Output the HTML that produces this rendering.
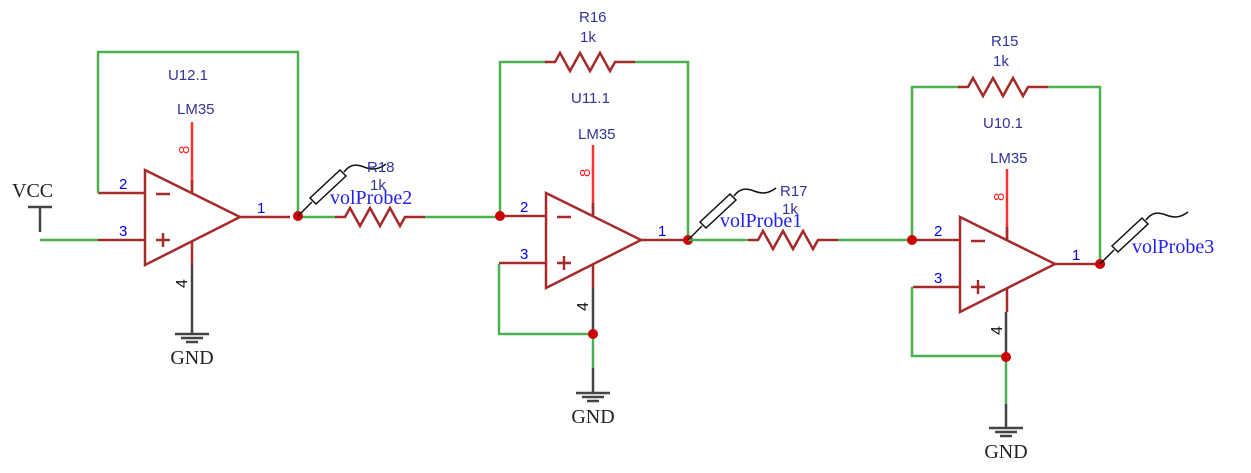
<!DOCTYPE html>
<html><head><meta charset="utf-8"><style>
html,body{margin:0;padding:0;background:#fff;}
svg{display:block}
.g{stroke:#4caf50;stroke-width:2.5;fill:none}
.r{stroke:#a52a2a;stroke-width:2.5;fill:none}
.rr{stroke:#ff3030;stroke-width:2.5;fill:none}
.k{stroke:#444;stroke-width:2.5;fill:none}
.lb{font-family:"Liberation Sans",sans-serif;font-size:15px;fill:#333399}
.pn{font-family:"Liberation Sans",sans-serif;font-size:15px;fill:#0000ee}
.sf{font-family:"Liberation Serif",serif;font-size:20px;fill:#222}
.vp{font-family:"Liberation Serif",serif;font-size:20px;fill:#2222ee}
</style></head><body>
<svg width="1251" height="473" viewBox="0 0 1251 473" xmlns="http://www.w3.org/2000/svg">
<defs>
<g id="oa">
  <polygon points="0,0 0,95 95,47" class="r"/>
  <line x1="-47" y1="23" x2="0" y2="23" class="r"/>
  <line x1="-47" y1="70" x2="0" y2="70" class="r"/>
  <line x1="95" y1="47" x2="145" y2="47" class="r"/>
  <line x1="11" y1="24" x2="25" y2="24" class="r"/>
  <line x1="11" y1="70" x2="25" y2="70" class="r"/><line x1="18" y1="63" x2="18" y2="77" class="r"/>
  <line x1="47" y1="-48" x2="47" y2="23" class="rr"/>
  <line x1="47" y1="23" x2="47" y2="10" class="r"/>
  <line x1="47" y1="71" x2="47" y2="95" class="r"/>
  <text x="-26" y="19" class="pn">2</text>
  <text x="-26" y="66" class="pn">3</text>
  <text x="112" y="43" class="pn">1</text>
  <text transform="translate(44,-16) rotate(-90)" class="pn" style="fill:#ff2020;font-size:15px">8</text>
  <text transform="translate(42,118) rotate(-90)" class="pn" style="fill:#111;font-size:16px">4</text>
</g>
<g id="gnd">
  <line x1="-17" y1="0" x2="17" y2="0" class="k"/>
  <line x1="-11" y1="4" x2="11" y2="4" class="k" stroke-width="1.5"/>
  <line x1="-6" y1="8" x2="6" y2="8" class="k" stroke-width="1.5"/>
  <text x="0" y="30" text-anchor="middle" class="sf">GND</text>
</g>
<g id="res">
  <polyline points="0,0 10,0 15,-9 25,9 35,-9 45,9 55,-9 65,9 70,0 90,0" class="r"/>
</g>
<g id="probe">
  <line x1="0" y1="0" x2="14" y2="-14" stroke="#111" stroke-width="1.5"/>
  <polygon points="12,-18 18,-12 48,-40 42,-46" fill="#fff" stroke="#111" stroke-width="1.5"/>
  <path d="M46,-44 C52,-52 58,-52 66,-49 C74,-46 80,-46 88,-52" stroke="#111" stroke-width="1.5" fill="none"/>
</g>
</defs>

<!-- Stage 1 -->
<use href="#oa" x="145" y="170"/>
<polyline points="98,193 98,52 298,52 298,217" class="g"/>
<line x1="40" y1="240" x2="98" y2="240" class="g"/>
<polyline points="28,207 52,207" class="k"/>
<polyline points="40,207 40,232" class="k"/>
<text x="12" y="197" class="sf">VCC</text>
<line x1="192" y1="265" x2="192" y2="334" class="k"/>
<use href="#gnd" x="192" y="334"/>
<line x1="298" y1="217" x2="335" y2="217" class="g"/>
<use href="#res" x="335" y="217"/>
<line x1="425" y1="217" x2="500" y2="217" class="g"/>
<circle cx="298" cy="216" r="5" fill="#cc0000"/>
<text x="168" y="80" class="lb">U12.1</text>
<text x="177" y="114" class="lb">LM35</text>
<use href="#probe" x="298" y="216"/>
<text x="367" y="172" class="lb">R18</text>
<text x="370" y="190" class="lb">1k</text>
<text x="330" y="204" class="vp">volProbe2</text>

<!-- Stage 2 -->
<use href="#oa" x="546" y="193"/>
<polyline points="500,216 500,62 547,62" class="g"/>
<use href="#res" x="545" y="62"/>
<polyline points="635,62 688,62 688,240" class="g"/>
<polyline points="499,264 499,334 594,334" class="g"/>
<line x1="593" y1="288" x2="593" y2="334" class="k"/>
<line x1="593" y1="334" x2="593" y2="368" class="g"/>
<line x1="593" y1="368" x2="593" y2="393" class="k"/>
<use href="#gnd" x="593" y="393"/>
<circle cx="500" cy="216" r="5" fill="#cc0000"/>
<circle cx="593" cy="334" r="5" fill="#cc0000"/>
<circle cx="688" cy="240" r="5" fill="#cc0000"/>
<line x1="688" y1="240" x2="748" y2="240" class="g"/>
<use href="#res" x="748" y="240"/>
<line x1="838" y1="240" x2="912" y2="240" class="g"/>
<text x="579" y="22" class="lb">R16</text>
<text x="580" y="42" class="lb">1k</text>
<text x="571" y="103" class="lb">U11.1</text>
<text x="578" y="139" class="lb">LM35</text>
<use href="#probe" x="688" y="240"/>
<text x="780" y="196" class="lb">R17</text>
<text x="782" y="214" class="lb">1k</text>
<text x="720" y="227" class="vp">volProbe1</text>

<!-- Stage 3 -->
<use href="#oa" x="960" y="217"/>
<polyline points="912,240 912,87 960,87" class="g"/>
<use href="#res" x="958" y="87"/>
<polyline points="1048,87 1100,87 1100,264" class="g"/>
<polyline points="913,288 912,288 912,356 1006,356" class="g"/>
<line x1="1006" y1="312" x2="1006" y2="356" class="k"/>
<line x1="1006" y1="356" x2="1006" y2="404" class="g"/>
<line x1="1006" y1="404" x2="1006" y2="428" class="k"/>
<use href="#gnd" x="1006" y="428"/>
<circle cx="912" cy="240" r="5" fill="#cc0000"/>
<circle cx="1006" cy="357" r="5" fill="#cc0000"/>
<circle cx="1100" cy="264" r="5" fill="#cc0000"/>
<text x="991" y="46" class="lb">R15</text>
<text x="993" y="66" class="lb">1k</text>
<text x="983" y="128" class="lb">U10.1</text>
<text x="990" y="163" class="lb">LM35</text>
<use href="#probe" x="1100" y="264"/>
<text x="1132" y="253" class="vp">volProbe3</text>
</svg>
</body></html>
